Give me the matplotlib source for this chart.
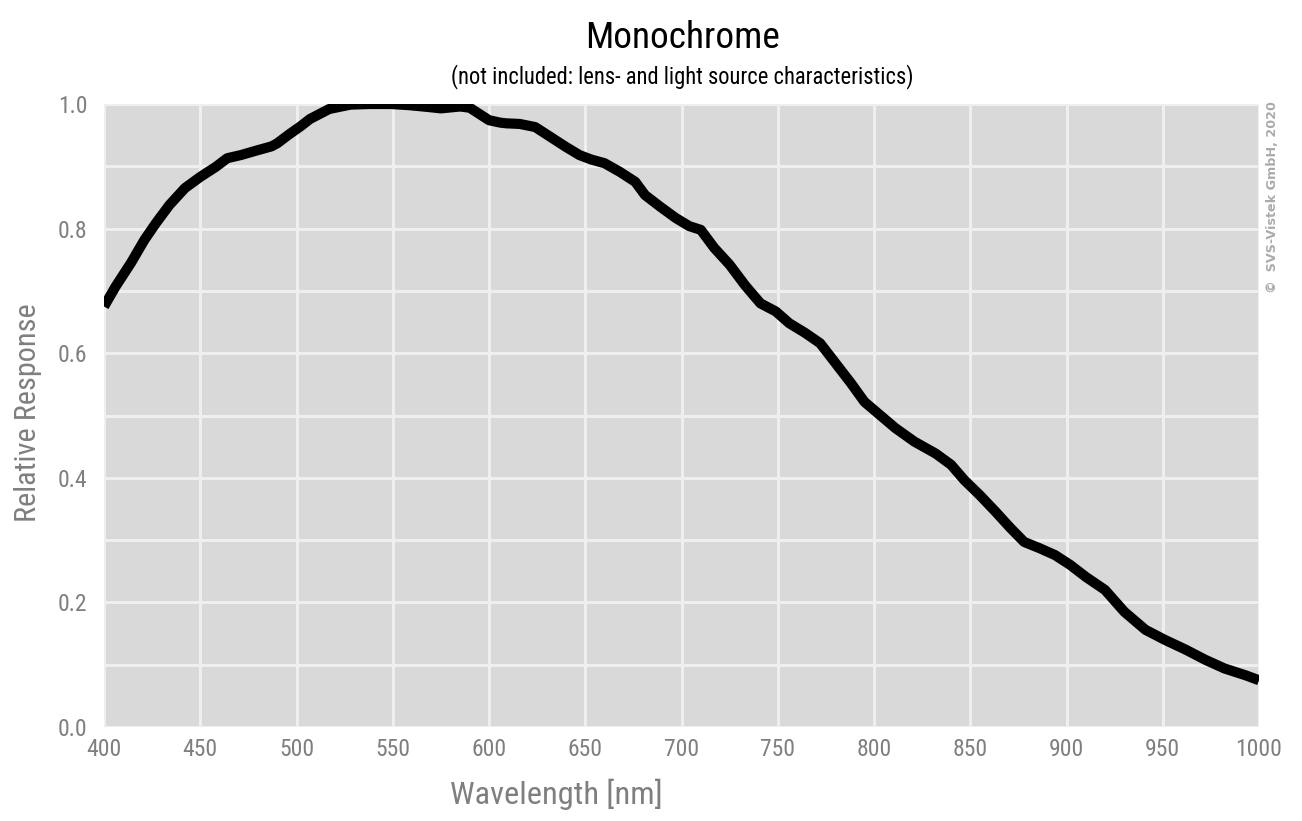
import matplotlib
matplotlib.use("Agg")
import matplotlib.pyplot as plt
from matplotlib import font_manager
import numpy as np

# spectral response
wavelength = [400, 406, 414, 421, 427, 434, 442, 450, 458, 464, 471, 480, 487, 490,
              496, 502, 507, 517, 528, 538, 549, 559, 569, 575, 585, 590, 600, 606,
              609, 616, 624, 632, 640, 647, 653, 660, 668, 676, 681, 689, 697, 704,
              710, 717, 725, 733, 741, 749, 756, 764, 772, 780, 788, 795, 803, 811,
              821, 832, 840, 847, 855, 863, 871, 878, 886, 894, 902, 910, 920, 930,
              941, 951, 962, 972, 982, 993, 1000]
response = [0.675, 0.707, 0.745, 0.782, 0.809, 0.838, 0.865, 0.883, 0.899, 0.913,
            0.918, 0.926, 0.932, 0.937, 0.951, 0.964, 0.976, 0.992, 0.999, 1.000,
            1.000, 0.998, 0.995, 0.993, 0.996, 0.994, 0.974, 0.970, 0.969, 0.968,
            0.963, 0.947, 0.931, 0.918, 0.911, 0.905, 0.891, 0.875, 0.854, 0.835,
            0.817, 0.804, 0.798, 0.769, 0.742, 0.709, 0.680, 0.667, 0.648, 0.633,
            0.616, 0.584, 0.552, 0.522, 0.501, 0.480, 0.458, 0.439, 0.421, 0.396,
            0.372, 0.346, 0.319, 0.297, 0.287, 0.276, 0.260, 0.241, 0.220, 0.185,
            0.156, 0.140, 0.124, 0.108, 0.094, 0.083, 0.075]

title = "Monochrome"
subtitle = "(not included: lens- and light source characteristics)"
x_label = "Wavelength [nm]"
y_label = "Relative Response"
credit = "\u00a9  SVS-Vistek GmbH, 2020"
x_ticks = list(range(400, 1001, 50))
y_ticks = [0.0, 0.2, 0.4, 0.6, 0.8, 1.0]

# pick a narrow face if there is one
avail = {f.name for f in font_manager.fontManager.ttflist}
narrow_name = next((n for n in ["Roboto Condensed", "Open Sans Condensed",
                                "Liberation Sans Narrow", "Noto Sans Condensed"]
                    if n in avail), None)
if narrow_name:
    fp = dict(family=[narrow_name, "DejaVu Sans"])
else:
    fp = dict(family=["DejaVu Sans"], stretch="condensed")
grey = "#7f7f7f"

fig = plt.figure(figsize=(13.02, 8.21), dpi=100)
ax = fig.add_axes([0.0799, 0.1145, 0.8871, 0.7588])
ax.set_facecolor("#d9d9d9")
for s in ax.spines.values():
    s.set_visible(False)

ax.plot(wavelength, response, color="black", lw=7.3, solid_capstyle="butt",
        solid_joinstyle="round", zorder=3)

ax.set_xlim(400, 1000)
ax.set_ylim(0, 1.0)
ax.set_xticks(x_ticks)
ax.set_yticks(y_ticks)
ax.set_yticks(np.arange(0.1, 1.0, 0.2), minor=True)
ax.grid(True, which="both", color="#efefef", lw=2.2, zorder=1)
ax.set_axisbelow(True)

renderer = fig.canvas.get_renderer()


def fit(t, target_px, vertical=False):
    bb = t.get_window_extent(renderer)
    size = bb.height if vertical else bb.width
    t.set_fontsize(t.get_fontsize() * target_px / size)
    return t


ax.set_xticklabels([str(v) for v in x_ticks], fontsize=17, color=grey, **fp)
ax.set_yticklabels([f"{v:.1f}" for v in y_ticks], fontsize=17, color=grey, **fp)
ax.tick_params(axis="x", which="both", length=0, pad=8)
ax.tick_params(axis="y", which="both", length=0, pad=12)

fit(fig.text(0.524, 0.9415, title, ha="center", va="baseline", fontsize=30, **fp), 195)
fit(fig.text(0.524, 0.898, subtitle, ha="center", va="baseline", fontsize=17, **fp), 462)
fit(fig.text(0.427, 0.032, x_label, ha="center", va="center", color=grey,
             fontsize=26, **fp), 212)
fit(fig.text(0.0215, 0.497, y_label, ha="center", va="center", rotation=90,
             color=grey, fontsize=26, **fp), 218, vertical=True)
fit(fig.text(0.977, 0.877, credit, rotation=90, ha="center", va="top",
             fontsize=9, color="#ababab", fontweight="bold"), 192, vertical=True)

fig.savefig("out.png", dpi=100)
